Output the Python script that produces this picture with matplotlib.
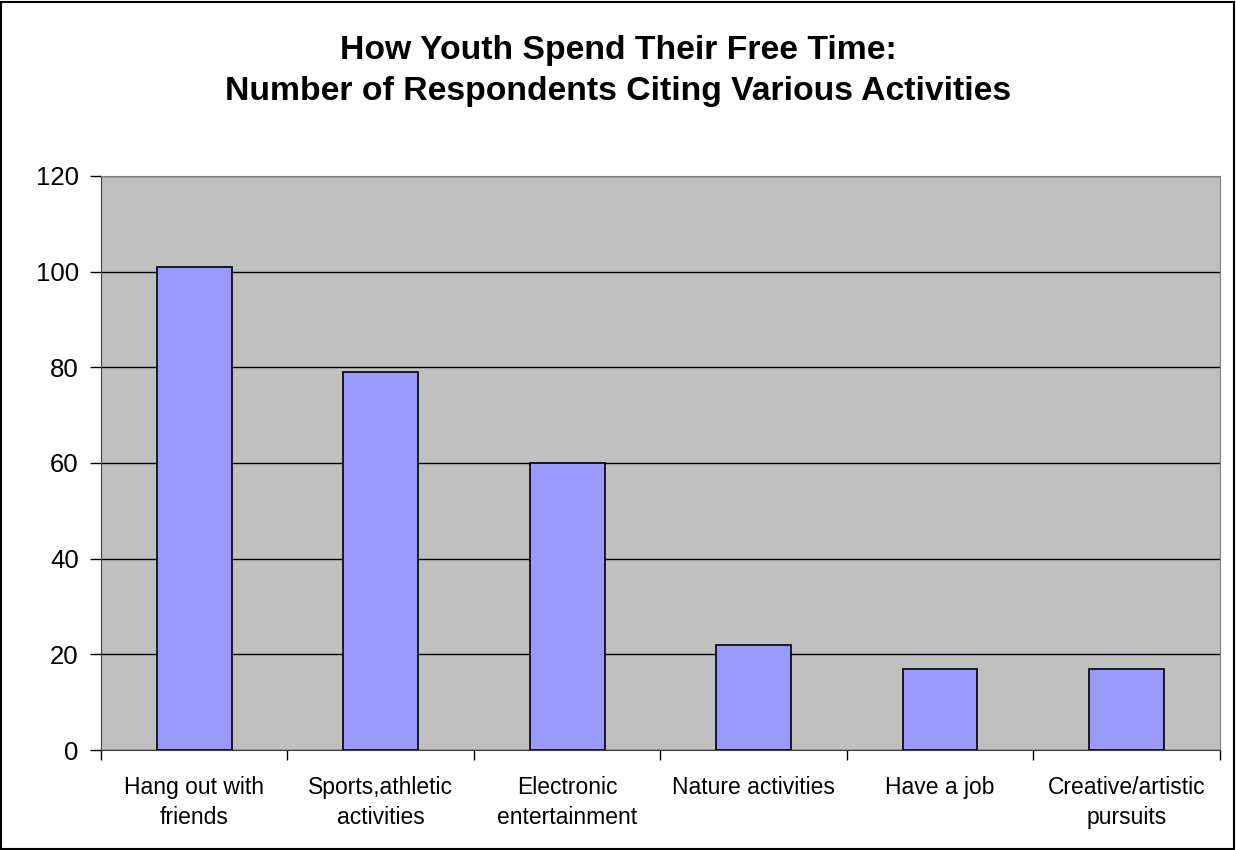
import numpy as np
import matplotlib.pyplot as plt
from matplotlib.patches import Rectangle

plt.rcParams["font.family"] = ["Liberation Sans", "DejaVu Sans"]

activities = [
    "Hang out with\nfriends",
    "Sports,athletic\nactivities",
    "Electronic\nentertainment",
    "Nature activities",
    "Have a job",
    "Creative/artistic\npursuits",
]
respondents = [101, 79, 60, 22, 17, 17]

fig = plt.figure(figsize=(12.36, 8.5), dpi=100)
ax = fig.add_axes([0.0817, 0.1176, 0.9053, 0.6754])

x = np.arange(len(activities))
ax.bar(x, respondents, width=0.4, color="#9999FF", edgecolor="black", linewidth=1.2, zorder=3)

ax.set_facecolor("#C0C0C0")
ax.set_xlim(-0.5, len(activities) - 0.5)
ax.set_ylim(0, 120)
ax.set_yticks(np.arange(0, 121, 20))
ax.yaxis.grid(True, color="black", linewidth=1.0, zorder=1)
ax.tick_params(axis="y", labelsize=18.5, length=8, width=1, pad=8, color="black")

# category labels without ticks, ticks sit between categories
ax.set_xticks(x)
ax.set_xticklabels(activities, fontsize=16.5, linespacing=1.35)
ax.tick_params(axis="x", which="major", length=0, pad=19)
ax.set_xticks(np.arange(-0.5, len(activities), 1), minor=True)
ax.tick_params(axis="x", which="minor", length=7, width=1, color="black")

for side in ["top", "right"]:
    ax.spines[side].set_color("#808080")
ax.spines["left"].set_color("#404040")
ax.spines["bottom"].set_color("#404040")

fig.text(0.5, 0.9168, "How Youth Spend Their Free Time:\nNumber of Respondents Citing Various Activities",
         ha="center", va="center", fontsize=24.3, fontweight="bold", linespacing=1.4)

fig.patches.append(Rectangle((0.001, 0.001), 0.997, 0.997, transform=fig.transFigure,
                             fill=False, edgecolor="black", linewidth=1.5))

fig.savefig("out.png", dpi=100)
